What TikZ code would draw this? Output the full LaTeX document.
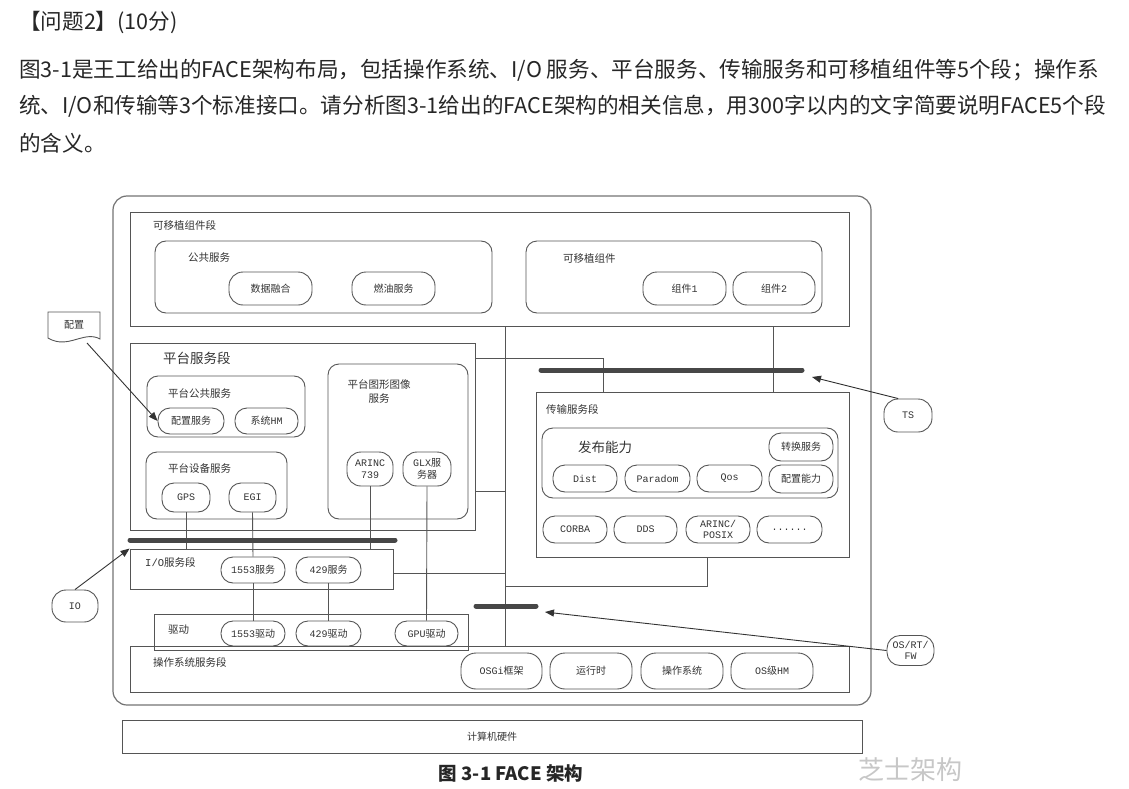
\documentclass[tikz,border=0pt]{standalone}
\usepackage{fontspec}
\setmainfont{Noto Sans CJK SC}
\newfontfamily\mono{Liberation Mono}
\usetikzlibrary{arrows.meta}
\definecolor{lc}{HTML}{555555}
\definecolor{tc}{HTML}{333333}
\newcommand\fsz[1]{\fontsize{#1}{#1}\selectfont}
\tikzset{
  seg/.style={draw=lc, line width=0.9pt, inner sep=0pt},
  rbox/.style={seg, rounded corners=11pt},
  pill/.style={seg, rounded corners=12pt, align=center, text=tc, font={\fontsize{10}{12}\selectfont}},
  lbl/.style={anchor=west, text=tc, inner sep=0pt, font={\fsz{10.5}}},
  big/.style={anchor=west, text=tc, inner sep=0pt, font={\fsz{13.5}}},
  wire/.style={draw=lc, line width=0.9pt},
  bar/.style={draw=black!72, line width=5pt, line cap=round},
  arr/.style={draw=black!80, line width=0.9pt, -{Triangle[length=9pt,width=7pt]}},
  para/.style={anchor=west, text=black!85, inner sep=0pt, font={\fsz{21.6}}},
}
\begin{document}
\begin{tikzpicture}[x=1pt,y=-1pt]
\useasboundingbox (0,0) rectangle (1129,789);
% question text
\node[para] (q0) at (19,22) {【问题2】(10分)};
\node[para] (q1) at (19,70) {图3-1是王工给出的FACE架构布局，包括操作系统、I/O 服务、平台服务、传输服务和可移植组件等5个段；操作系};
\node[para] (q2) at (19,106) {统、I/O和传输等3个标准接口。请分析图3-1给出的FACE架构的相关信息，用300字以内的文字简要说明FACE5个段};
\node[para] (q3) at (19,143) {的含义。};

% outer frame
\node[seg, rounded corners=14pt, line width=1.2pt, draw=black!55, minimum width=758pt, minimum height=509pt] (outer) at (492,450.5) {};

% coordinates for the bus lines
\coordinate (bus) at (505,0);
\coordinate (tsx) at (773,0);
\coordinate (j1) at (603,358);
\coordinate (tsdrop) at (707,0);

% portable components segment
\node[seg, minimum width=719pt, minimum height=114pt] (portseg) at (489.5,269) {};
\node[lbl] (portlbl) at (153,225) {可移植组件段};
\node[rbox, minimum width=337pt, minimum height=72pt] (pubsvc) at (323.5,277) {};
\node[lbl] (publbl) at (188,258) {公共服务};
\node[pill, minimum width=83pt, minimum height=33pt, rounded corners=14pt] (datafuse) at (270.5,288.5) {数据融合};
\node[pill, minimum width=83pt, minimum height=33pt, rounded corners=14pt] (fuel) at (393.5,288.5) {燃油服务};
\node[rbox, minimum width=296pt, minimum height=72pt] (portcomp) at (674,277) {};
\node[lbl] (pclbl) at (563,259) {可移植组件};
\node[pill, minimum width=83pt, minimum height=33pt, rounded corners=14pt] (comp1) at (684.5,288.5) {组件{\mono 1}};
\node[pill, minimum width=82pt, minimum height=33pt, rounded corners=14pt] (comp2) at (774,288.5) {组件{\mono 2}};

% platform services segment
\node[seg, minimum width=345pt, minimum height=187pt] (platseg) at (302.5,436.5) {};
\node[big] (platlbl) at (163,358) {平台服务段};
\node[rbox, minimum width=158pt, minimum height=61pt] (platpub) at (226,406.5) {};
\node[lbl] (pplbl) at (168,393) {平台公共服务};
\node[pill, minimum width=66pt, minimum height=26pt] (cfgsvc) at (191,421) {配置服务};
\node[pill, minimum width=63pt, minimum height=26pt] (syshm) at (266.5,421) {系统{\mono HM}};
\node[rbox, minimum width=141pt, minimum height=67pt] (platdev) at (216.5,485.5) {};
\node[lbl] (pdlbl) at (168,469) {平台设备服务};
\node[pill, minimum width=48pt, minimum height=29pt] (gps) at (186,497.5) {\mono GPS};
\node[pill, minimum width=47pt, minimum height=29pt] (egi) at (252.5,497.5) {\mono EGI};
\node[rbox, minimum width=140pt, minimum height=155pt] (platgfx) at (398,441.5) {};
\node[text=tc, inner sep=0pt, align=center, font={\fontsize{10.5}{14}\selectfont}] (pglbl) at (379,391) {平台图形图像\\服务};
\node[pill, minimum width=46pt, minimum height=34pt, rounded corners=14pt] (arinc) at (370,469) {{\mono ARINC}\\{\mono 739}};
\node[pill, minimum width=48pt, minimum height=34pt, rounded corners=14pt] (glx) at (427,469) {{\mono GLX}服\\务器};

% I/O segment
\node[seg, minimum width=263pt, minimum height=40pt] (ioseg) at (261.5,569) {};
\node[lbl] (iolbl) at (145,562) {{\mono I/O}服务段};
\node[pill, minimum width=64pt, minimum height=26pt] (s1553) at (253,570) {{\mono 1553}服务};
\node[pill, minimum width=65pt, minimum height=26pt] (s429) at (328.5,570) {{\mono 429}服务};

% drivers
\node[seg, minimum width=314pt, minimum height=36pt] (drv) at (311,632) {};
\node[lbl] (drvlbl) at (168,630) {驱动};
\node[pill, minimum width=64pt, minimum height=25pt] (d1553) at (253,633.5) {{\mono 1553}驱动};
\node[pill, minimum width=65pt, minimum height=25pt] (d429) at (328.5,633.5) {{\mono 429}驱动};
\node[pill, minimum width=63pt, minimum height=25pt] (dgpu) at (426.5,633.5) {{\mono GPU}驱动};

% transport segment
\node[seg, minimum width=313pt, minimum height=165pt] (transseg) at (692.5,474.5) {};
\node[lbl] (trlbl) at (546,409) {传输服务段};
\node[rbox, minimum width=296pt, minimum height=70pt] (pubcap) at (690,463) {};
\node[big] (pclbl2) at (578,447) {发布能力};
\node[pill, minimum width=64pt, minimum height=28pt] (conv) at (801,447) {转换服务};
\node[pill, minimum width=64pt, minimum height=28pt] (cfgcap) at (801,479) {配置能力};
\node[pill, minimum width=64pt, minimum height=27pt] (dist) at (585,478.5) {\mono Dist};
\node[pill, minimum width=65pt, minimum height=27pt] (paradom) at (657.5,478.5) {\mono Paradom};
\node[pill, minimum width=65pt, minimum height=27pt] (qos) at (729.5,478.5) {\mono Qos};
\node[pill, minimum width=64pt, minimum height=27pt] (corba) at (575,529.5) {\mono CORBA};
\node[pill, minimum width=63pt, minimum height=27pt] (dds) at (645.5,529.5) {\mono DDS};
\node[pill, minimum width=64pt, minimum height=27pt, font={\fontsize{10}{11}\selectfont}] (arpos) at (718,529.5) {{\mono ARINC/}\\{\mono POSIX}};
\node[pill, minimum width=65pt, minimum height=27pt] (dots) at (789.5,529.5) {\mono ......};

% OS segment
\node[seg, minimum width=719pt, minimum height=46pt] (osseg) at (489.5,669) {};
\node[lbl] (oslbl) at (153,662) {操作系统服务段};
\node[pill, minimum width=81pt, minimum height=36pt, rounded corners=15pt] (osgi) at (501.5,671) {{\mono OSGi}框架};
\node[pill, minimum width=82pt, minimum height=36pt, rounded corners=15pt] (rt) at (591,671) {运行时};
\node[pill, minimum width=82pt, minimum height=36pt, rounded corners=15pt] (opsys) at (682,671) {操作系统};
\node[pill, minimum width=82pt, minimum height=36pt, rounded corners=15pt] (oshm) at (772,671) {{\mono OS}级{\mono HM}};

% hardware
\node[seg, minimum width=740pt, minimum height=33pt, text=tc, font={\fsz{10}}] (hw) at (492,736.5) {计算机硬件};

% wires
\draw[wire] (portseg.south -| bus) -- (osseg.north -| bus);
\draw[wire] (portseg.south -| tsx) -- (transseg.north -| tsx);
\draw[wire] (platseg.east |- j1) -- (j1) -- (transseg.north -| j1);
\draw[wire] (platseg.east |- 0,491) -- (bus |- 0,491);
\draw[wire] (ioseg.east |- 0,573) -- (bus |- 0,573);
\draw[wire] (transseg.south -| tsdrop) -- (tsdrop |- 0,586) -- (bus |- 0,586);
\draw[wire] (gps.south) -- (ioseg.north -| gps);
\draw[wire] (egi.south) -- (s1553.north);
\draw[wire] (arinc.south) -- (ioseg.north -| arinc);
\draw[wire] (glx.south) -- (dgpu.north);
\draw[wire] (s1553.south) -- (d1553.north);
\draw[wire] (s429.south) -- (d429.north);

% interface bars
\coordinate (iob1) at (130,540); \coordinate (iob2) at (395,540);
\coordinate (tsb1) at (541,370); \coordinate (tsb2) at (802,370);
\coordinate (osb1) at (476,606); \coordinate (osb2) at (536,606);
\draw[bar] (iob1) -- (iob2);
\draw[bar] (tsb1) -- (tsb2);
\draw[bar] (osb1) -- (osb2);

% external labels
\draw[draw=lc, line width=0.9pt] (48,312) -- (100,312) -- (100,339) .. controls (84,330) and (68,350) .. (48,338) -- cycle;
\node[text=tc, font={\fsz{10}}] (cfgdoc) at (74,325) {配置};
\coordinate (cfgtail) at (87,343);
\node[pill, minimum width=46pt, minimum height=32pt, rounded corners=14pt] (io) at (75,606) {\mono IO};
\node[pill, minimum width=48pt, minimum height=33pt, rounded corners=14pt] (ts) at (908,415.5) {\mono TS};
\node[pill, minimum width=47pt, minimum height=30pt, rounded corners=13pt, font={\fontsize{10}{11}\selectfont}] (osrt) at (910.5,650.5) {{\mono OS/RT/}\\{\mono FW}};
\coordinate (tstip) at (812,377);
\coordinate (ostip) at (545,612);

\draw[arr] (cfgtail) -- (cfgsvc.west);
\draw[arr] (io.north) -- (ioseg.north west);
\draw[arr] (ts.120) -- (tstip);
\draw[arr] (osrt.west) -- (ostip);

% caption and watermark
\node[text=black!85, font={\fsz{18.5}\bfseries}] (cap) at (511,773) {图 3-1 FACE 架构};
\node[text=black!22, font={\fsz{26}}] (wm) at (910,770) {芝士架构};
\end{tikzpicture}
\end{document}
